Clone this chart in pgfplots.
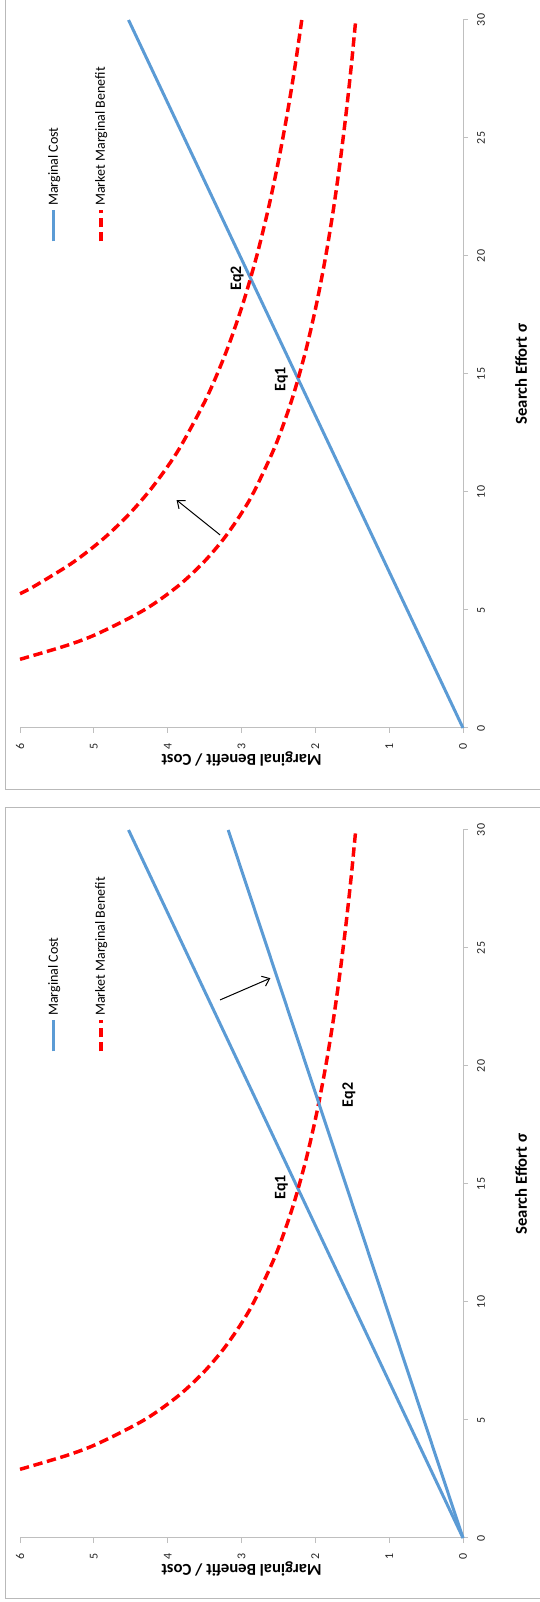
\documentclass[border=0pt]{standalone}
\usepackage{fontspec}
\setmainfont{Carlito}
\usepackage{pgfplots}
\pgfplotsset{compat=1.18}
\usetikzlibrary{arrows.meta}
\definecolor{mcblue}{RGB}{91,155,213}
\definecolor{axgray}{RGB}{191,191,191}
\definecolor{framegray}{RGB}{185,185,185}

\tikzset{
  eqlab/.style={font=\bfseries\fontsize{12}{14}\selectfont},
  arr/.style={-{Straight Barb[length=5pt,width=8pt]}, line width=0.75pt, black},
}
\pgfplotsset{
  panel/.style={
    scale only axis, width=531pt, height=332.25pt,
    xmin=0, xmax=30, ymin=0, ymax=6,
    axis x line*=bottom, axis y line*=left,
    axis line style={-, draw=axgray, line width=0.75pt},
    xtick={0,5,...,30}, ytick={0,1,...,6},
    tick align=outside, major tick length=3.75pt,
    tick style={draw=axgray, line width=0.75pt},
    /pgf/number format/assume math mode=true,
    ticklabel style={font=\fontsize{9}{11}\selectfont, text=black!85},
    xticklabel style={anchor=center, yshift=-9.75pt},
    yticklabel style={anchor=center, xshift=-9.75pt},
    xlabel={Search Effort σ}, ylabel={Marginal Benefit / Cost},
    every axis x label/.style={at={(axis description cs:0.5,-0.1309)}, anchor=center, font=\bfseries\fontsize{12.5}{14}\selectfont},
    every axis y label/.style={at={(axis description cs:-0.0438,0.5)}, anchor=center, rotate=90, font=\bfseries\fontsize{12.5}{14}\selectfont},
    clip=false,
    legend cell align=left,
    legend style={at={(axis cs:20.55,5.63)}, anchor=north west, draw=none, fill=none,
      inner sep=0pt, outer sep=0pt, row sep=25.25pt,
      font=\fontsize{10.5}{12}\selectfont,
      nodes={inner sep=0pt, anchor=west, text height=8pt, text depth=2pt},
      /tikz/every odd column/.append style={column sep=2pt}},
    legend image code/.code={\draw[#1] (0pt,0pt) -- (23.25pt,0pt);},
  },
  mc/.style={draw=mcblue, line width=2.25pt, line cap=butt},
  mb/.style={draw=red, line width=2.6pt, dash pattern=on 7pt off 3.5pt, smooth, tension=0.5},
}

\begin{document}
\begin{tikzpicture}[rotate=90, transform shape]
  % panel frames
  \draw[framegray, line width=0.75pt] (2.25pt,-3.75pt) rectangle (595.5pt,-410pt);
  \draw[framegray, line width=0.75pt] (609pt,-3.75pt) rectangle (1215pt,-410pt);

  % left panel: one benefit curve, two cost lines
  \begin{axis}[panel, at={(48pt,-347.25pt)}, anchor=south west]
    \addplot[mc] coordinates {(0,0) (30,4.53)};
    \addlegendentry{Marginal Cost}
    \addplot[mb] coordinates {
      (2.91,6.00) (3.5,5.365) (4,4.946) (5,4.319) (6,3.865) (7,3.520) (8,3.245)
      (9,3.021) (10,2.833) (12,2.536) (14,2.309) (16,2.129) (18,1.982) (20,1.859)
      (22,1.754) (24,1.664) (26,1.585) (28,1.515) (30,1.453)};
    \addlegendentry{Market Marginal Benefit}
    \addplot[mc, forget plot] coordinates {(0,0) (30,3.18)};
    \node[eqlab] at (axis cs:14.87,2.46) {Eq1};
    \node[eqlab] at (axis cs:18.77,1.545) {Eq2};
    \draw[arr] (axis cs:22.8,3.29) -- (axis cs:23.72,2.61);
  \end{axis}

  % right panel: one cost line, two benefit curves
  \begin{axis}[panel, at={(655.5pt,-347.25pt)}, anchor=south west]
    \addplot[mc] coordinates {(0,0) (30,4.53)};
    \addlegendentry{Marginal Cost}
    \addplot[mb] coordinates {
      (2.91,6.00) (3.5,5.365) (4,4.946) (5,4.319) (6,3.865) (7,3.520) (8,3.245)
      (9,3.021) (10,2.833) (12,2.536) (14,2.309) (16,2.129) (18,1.982) (20,1.859)
      (22,1.754) (24,1.664) (26,1.585) (28,1.515) (30,1.453)};
    \addlegendentry{Market Marginal Benefit}
    \addplot[mb, forget plot] coordinates {
      (5.69,6.00) (6,5.810) (7,5.290) (8,4.878) (9,4.541) (10,4.259) (11,4.019)
      (12,3.812) (14,3.471) (16,3.200) (18,2.979) (20,2.794) (22,2.637)
      (24,2.501) (26,2.382) (28,2.277) (30,2.184)};
    \node[eqlab] at (axis cs:14.78,2.46) {Eq1};
    \node[eqlab] at (axis cs:19.05,3.06) {Eq2};
    \draw[arr] (axis cs:8.18,3.29) -- (axis cs:9.66,3.88);
  \end{axis}

  \pgfresetboundingbox
  \path[use as bounding box] (0pt,0pt) rectangle (1201.5pt,-404.25pt);
\end{tikzpicture}
\end{document}
